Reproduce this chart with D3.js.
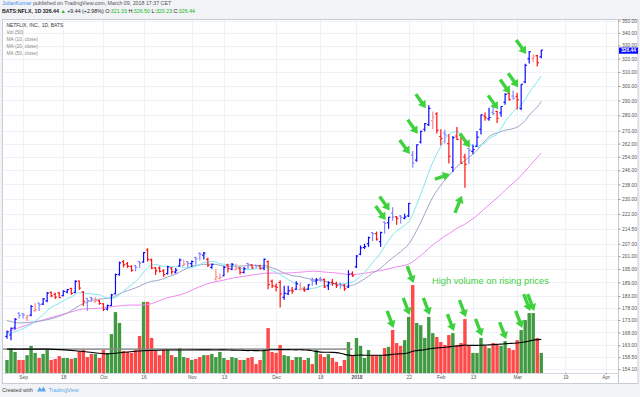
<!DOCTYPE html>
<html><head><meta charset="utf-8">
<script src="https://cdn.jsdelivr.net/npm/d3@7/dist/d3.min.js"></script>
<style>
html,body{margin:0;padding:0;background:#f1f3f6;}
svg{display:block;font-family:"Liberation Sans",Arial,sans-serif;}
text{white-space:pre;}
</style></head><body>
<svg id="c" width="640" height="397"></svg>
<script>
// ---------------- DATA ----------------
const dates = [
"2017-08-28","2017-08-29","2017-08-30","2017-08-31",
"2017-09-01","2017-09-05","2017-09-06","2017-09-07","2017-09-08","2017-09-11","2017-09-12","2017-09-13","2017-09-14","2017-09-15",
"2017-09-18","2017-09-19","2017-09-20","2017-09-21","2017-09-22","2017-09-25","2017-09-26","2017-09-27","2017-09-28","2017-09-29",
"2017-10-02","2017-10-03","2017-10-04","2017-10-05","2017-10-06","2017-10-09","2017-10-10","2017-10-11","2017-10-12","2017-10-13",
"2017-10-16","2017-10-17","2017-10-18","2017-10-19","2017-10-20","2017-10-23","2017-10-24","2017-10-25","2017-10-26","2017-10-27",
"2017-10-30","2017-10-31","2017-11-01","2017-11-02","2017-11-03","2017-11-06","2017-11-07","2017-11-08","2017-11-09","2017-11-10",
"2017-11-13","2017-11-14","2017-11-15","2017-11-16","2017-11-17","2017-11-20","2017-11-21","2017-11-22","2017-11-24","2017-11-27",
"2017-11-28","2017-11-29","2017-11-30","2017-12-01","2017-12-04","2017-12-05","2017-12-06","2017-12-07","2017-12-08","2017-12-11",
"2017-12-12","2017-12-13","2017-12-14","2017-12-15","2017-12-18","2017-12-19","2017-12-20","2017-12-21","2017-12-22","2017-12-26",
"2017-12-27","2017-12-28","2017-12-29","2018-01-02","2018-01-03","2018-01-04","2018-01-05","2018-01-08","2018-01-09","2018-01-10",
"2018-01-11","2018-01-12","2018-01-16","2018-01-17","2018-01-18","2018-01-19","2018-01-22","2018-01-23","2018-01-24","2018-01-25",
"2018-01-26","2018-01-29","2018-01-30","2018-01-31","2018-02-01","2018-02-02","2018-02-05","2018-02-06","2018-02-07","2018-02-08",
"2018-02-09","2018-02-12","2018-02-13","2018-02-14","2018-02-15","2018-02-16","2018-02-20","2018-02-21","2018-02-22","2018-02-23",
"2018-02-26","2018-02-27","2018-02-28","2018-03-01","2018-03-02","2018-03-05","2018-03-06","2018-03-07","2018-03-08","2018-03-09"];

const open = [166.5,167,169.8,175.8,175.5,173.8,175,176.8,180,179.6,
181,184.6,183.8,184.4,183.2,184.8,186.3,184.6,189.6,184.8,
182,182.4,180.6,181,179.7,177.5,179,184,192.6,198.5,
197.5,196.2,196.5,198.5,198.3,204,199.3,195.6,195.5,194.2,
193,195.5,193.6,196.5,196.6,198.5,197.5,200.4,202.4,201.5,
199.5,195.8,190.5,190.8,192,197,195,194.8,195.5,193.5,
197.6,197,196.8,196.5,195.5,198.5,189.5,187.3,189,182.5,
184,185.5,186,185.8,186,186,190,189.6,190.6,190.3,
187.5,189,188.5,188.2,187.8,187,193,196.1,202,205.2,
207,212.5,212,208,217.8,217.5,222.5,220.5,221,219.8,
221,255,252,263,271,274,276.5,281,266.4,268.5,
262,247.7,266.6,267.1,253.8,259,257.3,260.5,271,279.5,
277.7,282,282.6,281.6,288.8,294.8,293,292.8,284.6,302.9,
319.9,320,322.2,321.33];

const high = [168.8,170,173.8,176.2,175.9,175.2,179.2,180,180.3,182.2,
184.8,185,184.5,184.8,185.5,186.1,186.6,190,189.9,185.2,
182.2,182.6,182.5,181.5,180,179.4,184,193,198.5,199.2,
198.3,196.8,196.9,198.8,203,204.8,199.9,196,196.3,195,
196.6,196,195.5,200,199.5,198.8,199,200.8,202.8,203,
200.3,197.5,195,193,196.5,197.5,197.8,197.5,196,196,
198,197.2,197,197,200,199,190.3,188.5,190,187.5,
187.5,187,189.5,189,187.2,188.2,191.2,191,191.5,190.8,
189.5,190.5,189.3,189,188.3,194.5,194,201.6,206.2,207,
210.5,212.8,213,213,218.2,220.5,225.5,221,221.5,222.2,
227.8,257.5,261.5,270,275,286.8,282.5,282,271,270.6,
267.9,266.7,272.4,267.6,255.8,259.5,261.4,269.9,280.5,281.9,
285,286.8,283,286,295,297.4,296.8,295.3,301.2,316.1,
325.8,323.2,322.9,326.5];

const low = [165.5,165,169.2,173.5,173.6,172.5,174.5,176.5,176.7,179.2,
180.4,182.5,181.8,182.3,183,184.2,183.6,184.3,185.8,178.8,
176.8,180.5,180.3,179.3,176.7,177,178.8,183.8,192,195.8,
195.5,193.8,194,195.5,198,198.5,195.1,192.3,193.5,191.5,
192.5,192.5,193,196.2,196.3,195.5,196,197,199,199.5,
196,195.2,189.8,190.3,191.8,193.5,194.5,194.5,192.5,193,
195,195.2,195.5,194.8,194.5,186,186.5,185,178.2,181.5,
183.5,184,185.7,185.5,184.8,185.7,187.5,188,189.3,186.5,
185.7,187.5,186.5,186.2,185.3,186.5,191.5,195.5,201.5,204.5,
205.5,208.2,208.5,205.5,212,214.5,218.5,216.5,217,219.3,
220.5,247.5,251,262,269.5,273,271,268.3,261,262,
250,245,264.3,250,236.1,249.6,255.6,260,267.6,276.5,
276.5,280.3,275,279,287,290,290.5,283.8,283.3,302,
316.3,317.5,314.1,320.23];

const close = [168.2,169.6,173.3,174.8,175.1,174.6,178.6,177.2,179.4,181.8,
184.3,183.1,182.6,182.4,185.1,185.8,184.2,189.5,186.5,180.8,
181.1,181.9,181.2,179.9,177.4,179,183.5,192.5,197.9,197,
196.3,194.5,195.8,197.8,202.7,199.5,195.5,194.2,194,192.5,
196,193.8,194.5,199.2,197.3,197.6,198.5,199.8,202,202.5,
196.8,197.2,191.5,191.2,195.8,195.3,197.2,195.5,193.5,195.2,
197,195.6,196.5,195.2,199.5,188,187.5,186.8,184,184.2,
185.3,185.2,188.5,186.2,185.7,187.9,189.6,190.1,190.4,187,
188.8,188.6,187.6,187.9,186.2,192.7,192,201.1,205,205.6,
210,212,209.3,212.5,217.2,220.3,220.5,219.7,220.2,220.5,
227.6,250.3,261.3,269.7,274.6,284.6,278.8,270.3,265.1,267.4,
254.3,265.7,264.6,250.1,249.5,258,258.3,266,280.3,278.5,
278.6,281,278.1,285.9,294.2,290.6,291.4,290.4,301.1,315,
325.2,321.2,317,326.44];

// volume, millions of shares
const volume = [4.1,7.8,6.6,4.1,4.1,5.6,8.5,6.3,4.7,6.0,
7.2,4.1,4.4,5.3,4.7,4.7,4.4,4.7,6.9,7.2,
5.0,6.0,6.0,4.7,7.2,6.3,12.2,19.1,15.7,6.9,
6.6,6.3,7.2,11.6,22.3,22.3,11.0,6.9,5.6,7.2,
7.2,5.6,5.0,7.8,5.0,4.7,4.1,4.4,5.0,5.6,
5.6,6.0,5.0,6.6,4.7,4.1,5.0,4.7,4.1,4.1,
4.7,5.0,2.8,4.1,7.5,14.1,6.6,6.3,8.8,5.6,
5.3,4.1,5.0,5.0,4.1,4.7,2.8,7.2,5.9,5.0,
5.9,4.7,3.5,2.2,4.1,9.7,5.6,11.0,8.5,4.7,
7.2,5.6,5.6,5.6,7.8,8.2,13.5,9.4,8.5,10.3,
17.6,27.6,15.7,15.0,11.0,17.6,12.5,11.3,9.7,8.8,
11.9,12.5,8.8,9.4,16.9,8.8,6.3,6.3,11.0,8.5,
7.8,9.4,8.8,8.5,10.0,7.8,7.2,10.3,13.5,16.6,
18.8,18.8,11.0,6.3];

const ma10Early = [[0,167.4],[3.2,169.0],[6.5,171.8]];
const ma20Early = [[0,172.8],[3.2,171.8],[6.5,172.2],[14.9,175.8]];
const ma50Early = [[0,168.2],[6.5,171.8],[14.9,175.8],[18.9,177.5],[23.2,177.9],[30.6,179.2],[33.9,179.2],[40.6,182.6],[43,183.5]];
const volMaEarly = [[0,7.5],[10,7.5],[20,6.6],[25,6.0],[30,6.6],[40,7.2]];
const volRefLevel = 7.5, volRefEnd = 86;

const priceTicks = [350,340,330,320,310,300,290,280,270,262,254,246,238,230,222,214.5,207,201,195,189,183,178,173,168,163,158.5,154.1];
const xTickIdx = [4,14,24,34,46,54,67,78,87,100,108,116,127,139,149];
const xTickLabels = ["Sep","18","Oct","16","Nov","13","Dec","18","2018","22","Feb","13","Mar","19","Apr"];

const priceArrowIdx = [95,96,101,103,105,116,123,126,128,130];
const upArrowIdx = [111,114];
const volArrowIdx = [96,100,101,105,111,114,118,124,128,130,131];
const lastPrice = 326.44;

// ---------------- CHART ----------------
const svg = d3.select("#c");
const PL=2, PR=618, PT=19, PB=373;

const x = d3.scaleLinear().domain([0,133]).range([7, 7+133*4.017]);
const yP = d3.scaleLog().domain([154.1,350]).range([369.2,20.5]);
const yV = d3.scaleLinear().domain([0,27.6]).range([373,285]);

// header
const h1 = svg.append("text").attr("x",2).attr("y",5.2).attr("font-size",5.3);
h1.append("tspan").attr("fill","#3b8fe6").text("JulianKomar");
h1.append("tspan").attr("fill","#555").text(" published on TradingView.com, March 09, 2018 17:37 CET");
const h2 = svg.append("text").attr("x",2).attr("y",13.2).attr("font-size",5.3).attr("fill","#222");
const G="#21b321";
[["BATS:NFLX, 1D 326.44 ","#222",true],["▲",G,false],[" +9.44 (+2.98%) ","#222",false],["O:","#222",false],["321.33",G,false],
 [" H:","#222",false],["326.50",G,false],[" L:","#222",false],["320.23",G,false],[" C:","#222",false],["326.44",G,false]]
 .forEach(([t,c,b])=>h2.append("tspan").attr("fill",c).attr("font-weight",b?"bold":"normal").text(t));

// frame
svg.append("rect").attr("x",PL+0.5).attr("y",PT+0.5).attr("width",636-0.5).attr("height",364)
  .attr("fill","#fff").attr("stroke","#c9ced6");

// grid
const grid = svg.append("g");
grid.selectAll("line.h").data(priceTicks).join("line")
  .attr("x1",PL+1).attr("x2",PR).attr("y1",d=>Math.round(yP(d))+0.5).attr("y2",d=>Math.round(yP(d))+0.5)
  .attr("stroke","#eef1f5");
grid.selectAll("line.v").data(xTickIdx).join("line")
  .attr("x1",d=>Math.round(x(d))+0.5).attr("x2",d=>Math.round(x(d))+0.5).attr("y1",PT+1).attr("y2",PB)
  .attr("stroke","#eef1f5");

svg.append("clipPath").attr("id","clip").append("rect").attr("x",PL+1).attr("y",PT+1).attr("width",PR-PL-1).attr("height",PB-PT-1);
const plot = svg.append("g").attr("clip-path","url(#clip)");

const bars = dates.map((d,i)=>({i,o:open[i],h:high[i],l:low[i],c:close[i],v:volume[i]}));

// volume
plot.append("g").selectAll("rect").data(bars).join("rect")
  .attr("x",d=>x(d.i)-1.7).attr("width",3.4)
  .attr("y",d=>yV(d.v)).attr("height",d=>yV(0)-yV(d.v))
  .attr("fill",d=>d.c>=d.o?"#419a41":"#ff4848");

function sma(arr,n){return arr.map((_,i)=>i>=n-1?d3.mean(arr.slice(i-n+1,i+1)):null);}
function series(early,arr,n){return early.concat(sma(arr,n).map((v,i)=>[i,v]).filter(d=>d[1]!=null));}

// volume reference line + volume MA
plot.append("line").attr("x1",PL).attr("x2",x(volRefEnd)).attr("y1",yV(volRefLevel)).attr("y2",yV(volRefLevel))
  .attr("stroke","#8a8a8a").attr("stroke-width",1.6).attr("opacity",0.85);
const lineV = d3.line().x(d=>x(d[0])).y(d=>yV(d[1])).curve(d3.curveMonotoneX);
plot.append("path").attr("d",lineV(series(volMaEarly,volume,50))).attr("fill","none").attr("stroke","#000").attr("stroke-width",1.1);

// price MAs
const lineP = d3.line().x(d=>x(d[0])).y(d=>yP(d[1])).curve(d3.curveMonotoneX);
[[ma50Early,50,"#f08af0"],[ma20Early,20,"#9ea6c8"],[ma10Early,10,"#7ee8f0"]].forEach(([e,n,c])=>{
  plot.append("path").attr("d",lineP(series(e,close,n))).attr("fill","none").attr("stroke",c).attr("stroke-width",1);
});

// OHLC bars
function barColor(d){
  const prev = d.i? close[d.i-1] : d.o;
  const up = d.c>=prev, agree = (d.c>=d.o)===up;
  return up ? (agree?"#0a0aff":"#8787ff") : (agree?"#ff1010":"#ff8a8a");
}
const bg = plot.append("g").selectAll("g").data(bars).join("g").attr("stroke",barColor).attr("stroke-width",1.2);
bg.append("line").attr("x1",d=>x(d.i)).attr("x2",d=>x(d.i)).attr("y1",d=>yP(d.h)).attr("y2",d=>yP(d.l));
bg.append("line").attr("x1",d=>x(d.i)-1.7).attr("x2",d=>x(d.i)).attr("y1",d=>yP(d.o)).attr("y2",d=>yP(d.o));
bg.append("line").attr("x1",d=>x(d.i)).attr("x2",d=>x(d.i)+1.7).attr("y1",d=>yP(d.c)).attr("y2",d=>yP(d.c));

// arrows
function arrowPath(tx,ty,hx,hy){
  const dx=hx-tx, dy=hy-ty, L=Math.hypot(dx,dy), ux=dx/L, uy=dy/L, nx=-uy, ny=ux;
  const hl=7, hw=4.6, sw=1.7, bx=hx-ux*hl, by=hy-uy*hl;
  const p=[[tx+nx*sw,ty+ny*sw],[bx+nx*sw,by+ny*sw],[bx+nx*hw,by+ny*hw],[hx,hy],[bx-nx*hw,by-ny*hw],[bx-nx*sw,by-ny*sw],[tx-nx*sw,ty-ny*sw]];
  return "M"+p.map(q=>q.map(v=>v.toFixed(1)).join(",")).join("L")+"Z";
}
const ag = svg.append("g").attr("fill","#3ed23e");
priceArrowIdx.forEach(i=>{const hx=x(i)-3, hy=yP(high[i])+3; ag.append("path").attr("d",arrowPath(hx-10,hy-14,hx,hy));});
upArrowIdx.forEach((i,k)=>{
  const hx=x(i)-3, hy=yP(low[i])+(k?8:2);
  ag.append("path").attr("d", k? arrowPath(hx-7,hy+17,hx,hy) : arrowPath(hx-15,hy+5,hx,hy));
});
volArrowIdx.forEach(i=>{const hx=x(i)+1, hy=yV(volume[i])-2; ag.append("path").attr("d",arrowPath(hx-6.5,hy-17,hx,hy));});

svg.append("text").attr("x",432).attr("y",284).attr("font-size",9.3).attr("fill","#45cf45").text("High volume on rising prices");

// legend
const lg = svg.append("g").attr("font-size",4.9);
["NETFLIX, INC., 1D, BATS","Vol (50)","MA (10, close)","MA (20, close)","MA (50, close)"].forEach((t,k)=>{
  lg.append("text").attr("x",6.5).attr("y",27+k*7).attr("fill",k?"#8a8a8a":"#333").text(t);
});

// right axis
svg.append("line").attr("x1",PR+0.5).attr("x2",PR+0.5).attr("y1",PT).attr("y2",383).attr("stroke","#c4c8cf");
const ay = svg.append("g").attr("transform",`translate(${PR+0.5},0)`)
  .call(d3.axisRight(yP).tickValues(priceTicks).tickFormat(d=>d.toFixed(2)).tickSize(2).tickPadding(1.5));
ay.select(".domain").remove();
ay.selectAll("line").attr("stroke","#999");
ay.selectAll("text").attr("font-size",4.9).attr("fill","#555").attr("font-family","Liberation Sans, Arial, sans-serif");
// the 330.00 label sits just above the last-price box; nudge it up slightly so both stay readable
ay.selectAll(".tick").filter(d=>d===330).select("text").attr("dy","0.1em");

// bottom axis
svg.append("line").attr("x1",PL).attr("x2",PR).attr("y1",PB+0.5).attr("y2",PB+0.5).attr("stroke","#d3d6dc");
const ax = svg.append("g").attr("transform",`translate(0,${PB})`)
  .call(d3.axisBottom(x).tickValues(xTickIdx).tickFormat((d,k)=>xTickLabels[k]).tickSize(1.5).tickPadding(1.5));
ax.select(".domain").remove();
ax.selectAll("line").attr("stroke","#999");
ax.selectAll("text").attr("font-size",4.9).attr("fill","#555").attr("font-family","Liberation Sans, Arial, sans-serif")
  .attr("font-weight",(d,k)=>xTickLabels[k]==="2018"?"bold":"normal");

// last price label
const ly = yP(lastPrice);
svg.append("rect").attr("x",PR+1).attr("y",ly-2.6).attr("width",19).attr("height",6.2).attr("fill","#0a0aff");
svg.append("text").attr("x",PR+10.5).attr("y",ly+2.2).attr("text-anchor","middle").attr("font-size",4.8).attr("font-weight","bold").attr("fill","#fff").text(lastPrice.toFixed(2));

// footer
svg.append("text").attr("x",2).attr("y",391.5).attr("font-size",5.5).attr("fill","#444").text("Created with");
svg.append("path").attr("d","M37,391.5 L39.5,387 L41.5,389.5 L43.5,386.5 L46,391.5 Z").attr("fill","#5fa9ea");
svg.append("text").attr("x",48.5).attr("y",391.5).attr("font-size",5.5).attr("fill","#5fa9ea").text("TradingView");
</script>
</body></html>
